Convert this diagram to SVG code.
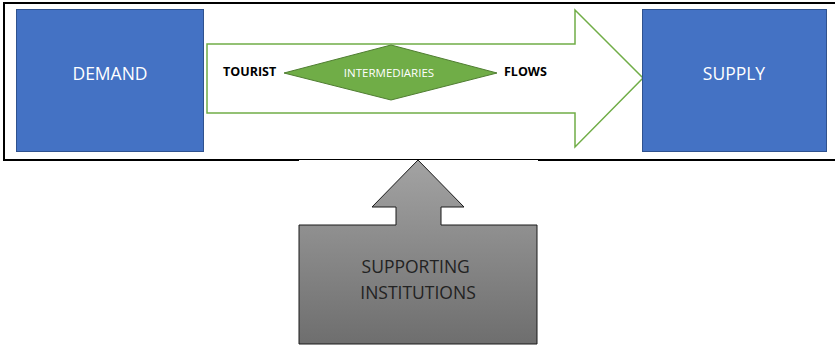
<svg xmlns="http://www.w3.org/2000/svg" width="835" height="348" viewBox="0 0 835 348">
  <defs>
    <linearGradient id="grayFill" x1="0" y1="160" x2="0" y2="344" gradientUnits="userSpaceOnUse">
      <stop offset="0" stop-color="#a3a3a3"/>
      <stop offset="1" stop-color="#6e6e6e"/>
    </linearGradient>
    <style>
      .blue { fill: #4472C4; stroke: #2F528F; stroke-width: 1; }
      .boxLabel { font-family: "Open Sans", "Liberation Sans", sans-serif; font-size: 17.5px; fill: #ffffff; text-anchor: middle; }
      .flowLabel { font-family: "Open Sans", "Liberation Sans", sans-serif; font-size: 12.5px; font-weight: bold; fill: #000000; }
      .frame { stroke: #000000; fill: none; }
    </style>
  </defs>
  <rect width="835" height="348" fill="#ffffff"/>

  <!-- outer frame (right side runs past the canvas) -->
  <g id="frame">
    <path class="frame" stroke-width="2" d="M4,160 V3 H836"/>
    <path class="frame" stroke-width="2" d="M3,160 H299 M538,160 H836"/>
    <path class="frame" stroke-width="1" d="M299,159.5 H538"/>
  </g>

  <!-- flow arrow from demand to supply -->
  <g id="connectors">
    <path id="flow-arrow" d="M207,44 H575 V10 L643,78 L575,147 V113 H207 Z" fill="#ffffff" stroke="#70AD47" stroke-width="1.5" stroke-linejoin="miter"/>
  </g>

  <g id="demand">
    <rect class="blue" x="16.5" y="9.5" width="187" height="142"/>
    <text class="boxLabel" x="110" y="80">DEMAND</text>
  </g>

  <g id="supply">
    <rect class="blue" x="642.5" y="9.5" width="184" height="142"/>
    <text class="boxLabel" x="734" y="80">SUPPLY</text>
  </g>

  <g id="intermediaries">
    <path d="M284,73 L391,45 L497,73 L391,100 Z" fill="#70AD47" stroke="#507E32" stroke-width="1"/>
    <text x="389" y="77" font-family="'Open Sans', 'Liberation Sans', sans-serif" font-size="11.5" fill="#ffffff" text-anchor="middle">INTERMEDIARIES</text>
  </g>

  <g id="tourist-label">
    <text class="flowLabel" x="223" y="76">TOURIST</text>
  </g>
  <g id="flows-label">
    <text class="flowLabel" x="504" y="76">FLOWS</text>
  </g>

  <g id="supporting-institutions">
    <path d="M418,160 L464,207 H441 V225 H537 V344 H299 V225 H396 V207 H372 Z" fill="url(#grayFill)" stroke="#1a1a1a" stroke-width="1"/>
    <text font-family="'Open Sans', 'Liberation Sans', sans-serif" font-size="17.5" fill="#222222" text-anchor="middle">
      <tspan x="418" y="272.5">SUPPORTING</tspan>
      <tspan x="418" y="298.5">INSTITUTIONS</tspan>
    </text>
  </g>
</svg>
